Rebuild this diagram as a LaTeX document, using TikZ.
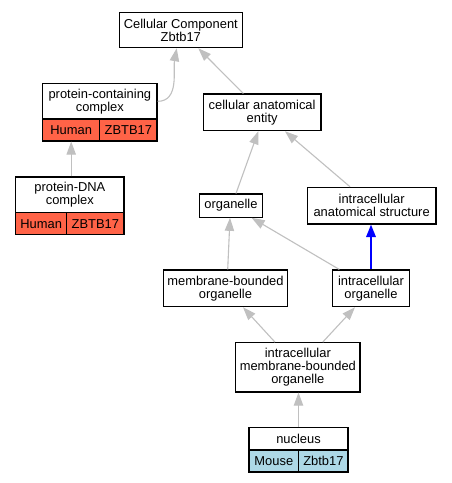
\documentclass[tikz,border=0pt]{standalone}
\usepackage{fontspec}
\setmainfont{Liberation Sans}
\usetikzlibrary{arrows.meta,calc}
\definecolor{edgegray}{HTML}{C0C0C0}
\definecolor{human}{HTML}{FF6347}
\definecolor{mouse}{HTML}{ADD8E6}
\begin{document}
\begin{tikzpicture}[x=1pt,y=-1pt,
  every node/.style={font=\fontsize{12.9}{12.8}\selectfont},
  term/.style={draw=black,line width=1.1pt,fill=white,rectangle,inner sep=0pt,align=center},
  cell/.style={draw=black,line width=1.1pt,rectangle,inner sep=0pt,align=center},
  isa/.style={draw=edgegray,line width=1.1pt,-{Triangle[length=13pt,width=9.3pt,fill=edgegray]}},
  partof/.style={draw=blue,line width=1.6pt,-{Triangle[length=12.5pt,width=9.5pt,fill=blue]}}]
\useasboundingbox (0,0) rectangle (452,483);
\fill[white] (0,0) rectangle (452,483);
% nodes
\node[term,minimum width=123pt,minimum height=35pt] (cc) at (180.8,30.2) {Cellular Component\\Zbtb17};
\node[term,minimum width=114.3pt,minimum height=35.3pt] (pcc) at (99.85,101.35) {protein-containing\\complex};
\node[cell,fill=human,minimum width=57pt,minimum height=22pt] (pcch) at (71.2,130) {Human};
\node[cell,fill=human,minimum width=57.3pt,minimum height=22pt] (pccz) at (128.35,130) {ZBTB17};
\node[term,minimum width=108.3pt,minimum height=35.7pt] (pdna) at (69.85,194.85) {protein-DNA\\complex};
\node[cell,fill=human,minimum width=51pt,minimum height=22pt] (pdnah) at (41.2,223.7) {Human};
\node[cell,fill=human,minimum width=57.3pt,minimum height=22pt] (pdnaz) at (95.35,223.7) {ZBTB17};
\node[term,minimum width=117.7pt,minimum height=36.7pt] (cae) at (262.15,112.35) {cellular anatomical\\entity};
\node[term,minimum width=63.4pt,minimum height=23.3pt] (org) at (231,205.65) {organelle};
\node[term,minimum width=128.7pt,minimum height=36.7pt] (ias) at (371.65,205.65) {intracellular\\anatomical structure};
\node[term,minimum width=124.4pt,minimum height=36.7pt] (mbo) at (225.5,288.35) {membrane-bounded\\organelle};
\node[term,minimum width=76.6pt,minimum height=36.7pt] (io) at (371,288.35) {intracellular\\organelle};
\node[term,minimum width=124.3pt,minimum height=49.3pt] (imbo) at (297.85,367.35) {intracellular\\membrane-bounded\\organelle};
\node[term,minimum width=99pt,minimum height=22.3pt] (nuc) at (298.5,438.85) {nucleus};
\node[cell,fill=mouse,minimum width=49.7pt,minimum height=22pt] (nucm) at (273.85,461) {Mouse};
\node[cell,fill=mouse,minimum width=49.3pt,minimum height=22pt] (nucz) at (323.35,461) {Zbtb17};
% edges
\draw[isa] (pcc.east) to[out=0,in=-100] ([xshift=-4.1pt]cc.south);
\draw[isa] ([xshift=-18.85pt]cae.north) -- ([xshift=17.5pt]cc.south);
\draw[isa] (pdna.north -| pcch.south) -- (pcch.south);
\draw[isa] ([xshift=5pt]org.north) -- ([xshift=-3.85pt]cae.south);
\draw[isa] ([xshift=-21.65pt]ias.north) -- ([xshift=22.85pt]cae.south);
\draw[isa] ([xshift=2.2pt]mbo.north) -- ([xshift=-1pt]org.south);
\draw[isa] ([xshift=-31.7pt]io.north) -- ([xshift=20.7pt]org.south);
\draw[partof] (io.north) -- (io.north |- ias.south);
\draw[isa] ([xshift=-22.85pt]imbo.north) -- ([xshift=17.5pt]mbo.south);
\draw[isa] ([xshift=24.85pt]imbo.north) -- ([xshift=-16pt]io.south);
\draw[isa] (nuc.north) -- (nuc.north |- imbo.south);
\end{tikzpicture}
\end{document}
